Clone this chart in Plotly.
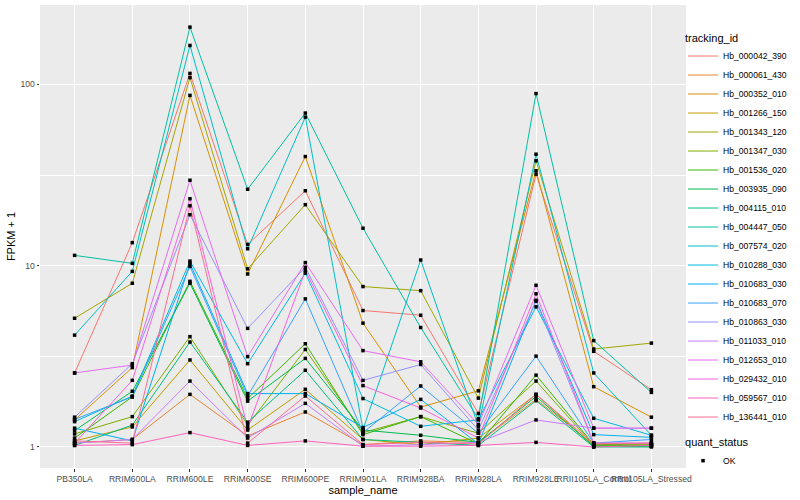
import plotly.graph_objects as go

samples = ["PB350LA", "RRIM600LA", "RRIM600LE", "RRIM600SE", "RRIM600PE", "RRIM901LA",
           "RRIM928BA", "RRIM928LA", "RRIM928LE", "RRII105LA_Control", "RRII105LA_Stressed"]

tracking_ids = ["Hb_000042_390", "Hb_000061_430", "Hb_000352_010", "Hb_001266_150", "Hb_001343_120",
                "Hb_001347_030", "Hb_001536_020", "Hb_003935_090", "Hb_004115_010", "Hb_004447_050",
                "Hb_007574_020", "Hb_010288_030", "Hb_010683_030", "Hb_010683_070", "Hb_010863_030",
                "Hb_011033_010", "Hb_012653_010", "Hb_029432_010", "Hb_059567_010", "Hb_136441_010"]

colors = ["#F8766D", "#EA8331", "#D89000", "#C09B00", "#A3A500", "#7CAE00", "#39B600", "#00BB4E",
          "#00BF7D", "#00C1A3", "#00BFC4", "#00BAE0", "#00B0F6", "#35A2FF", "#9590FF", "#C77CFF",
          "#E76BF3", "#FA62DB", "#FF62BC", "#FF6C91"]

# FPKM + 1 per sample, one list per tracking_id
Hb_000042_390 = [2.56, 13.4, 115, 13.1, 25.9, 5.66, 5.33, 1.53, 32.0, 3.37, 2.07]
Hb_000061_430 = [1.05, 1.10, 1.95, 1.15, 1.56, 1.03, 1.08, 1.06, 1.83, 1.03, 1.02]
Hb_000352_010 = [1.41, 2.74, 87, 9.0, 40, 4.82, 1.66, 2.04, 33.4, 2.15, 1.46]
Hb_001266_150 = [1.08, 1.29, 3.02, 1.24, 2.08, 1.10, 1.03, 1.12, 1.95, 1.01, 1.01]
Hb_001343_120 = [5.13, 8.0, 109, 9.6, 21.7, 7.67, 7.28, 1.86, 37.9, 3.47, 3.74]
Hb_001347_030 = [1.18, 1.47, 4.06, 1.32, 3.45, 1.20, 1.47, 1.19, 2.31, 1.02, 1.03]
Hb_001536_020 = [1.12, 1.89, 8.2, 1.85, 3.71, 1.17, 1.47, 1.04, 2.49, 1.03, 1.02]
Hb_003935_090 = [1.23, 2.03, 8.0, 1.79, 3.08, 1.24, 1.16, 1.06, 1.90, 1.01, 1.01]
Hb_004115_010 = [1.02, 1.32, 3.79, 1.37, 2.65, 1.10, 1.06, 1.02, 1.80, 1.00, 1.00]
Hb_004447_050 = [11.4, 10.3, 207, 26.4, 69.5, 16.1, 4.56, 1.43, 89, 3.86, 2.00]
Hb_007574_020 = [4.14, 9.3, 164, 12.4, 66, 1.25, 10.75, 1.30, 41.2, 2.56, 1.16]
Hb_010288_030 = [1.38, 1.91, 10.6, 2.88, 9.1, 1.85, 1.30, 1.41, 5.93, 1.44, 1.16]
Hb_010683_030 = [1.27, 1.08, 10.3, 1.97, 1.97, 1.28, 1.83, 1.04, 6.45, 1.17, 1.13]
Hb_010683_070 = [1.42, 1.89, 9.9, 1.91, 6.56, 1.20, 2.17, 1.19, 3.17, 1.05, 1.10]
Hb_010863_030 = [1.46, 2.88, 19.1, 4.51, 9.8, 2.33, 2.85, 1.24, 6.37, 1.05, 1.05]
Hb_011033_010 = [1.05, 1.10, 2.31, 1.12, 1.74, 1.01, 1.03, 1.06, 1.41, 1.27, 1.27]
Hb_012653_010 = [2.56, 2.83, 29.6, 3.15, 10.4, 3.40, 2.95, 1.33, 7.8, 1.27, 1.27]
Hb_029432_010 = [1.05, 2.33, 23.4, 1.27, 9.4, 2.18, 1.64, 1.12, 7.0, 1.05, 1.05]
Hb_059567_010 = [1.02, 1.03, 1.20, 1.02, 1.08, 1.01, 1.01, 1.02, 1.06, 1.00, 1.02]
Hb_136441_010 = [1.08, 1.05, 21.4, 1.05, 1.91, 1.03, 1.06, 1.04, 1.95, 1.04, 1.05]

series = [Hb_000042_390, Hb_000061_430, Hb_000352_010, Hb_001266_150, Hb_001343_120,
          Hb_001347_030, Hb_001536_020, Hb_003935_090, Hb_004115_010, Hb_004447_050,
          Hb_007574_020, Hb_010288_030, Hb_010683_030, Hb_010683_070, Hb_010863_030,
          Hb_011033_010, Hb_012653_010, Hb_029432_010, Hb_059567_010, Hb_136441_010]

y_ticks = [1, 10, 100]
y_tick_labels = ["1", "10", "100"]
y_minor = [3.1623, 31.623]

fig = go.Figure()
for name, vals, col in zip(tracking_ids, series, colors):
    fig.add_trace(go.Scatter(x=samples, y=vals, mode="lines", name=name,
                             line=dict(color=col, width=1), legend="legend"))

all_x = [s for _ in series for s in samples]
all_y = [v for vals in series for v in vals]
fig.add_trace(go.Scatter(x=all_x, y=all_y, mode="markers", name="OK",
                         marker=dict(symbol="square", size=3.5, color="black"),
                         legend="legend2"))

fig.update_layout(
    width=800, height=500,
    margin=dict(l=40, r=114, t=5, b=32, autoexpand=False),
    paper_bgcolor="white", plot_bgcolor="#EBEBEB",
    font=dict(family="Liberation Sans, Arial, sans-serif", size=9, color="black"),
    xaxis=dict(type="category", categoryorder="array", categoryarray=samples,
               range=[-0.6, 10.6], showgrid=True, gridcolor="white", gridwidth=1.1,
               ticks="outside", ticklen=2.5, tickcolor="#333333", tickwidth=1,
               tickfont=dict(size=8.6, color="#4D4D4D"), tickangle=0, automargin=False,
               title=dict(text="sample_name", font=dict(size=11, color="black"), standoff=0),
               zeroline=False, showline=False),
    yaxis=dict(type="log", range=[-0.116, 2.438], automargin=False,
               tickmode="array", tickvals=y_ticks, ticktext=y_tick_labels,
               showgrid=True, gridcolor="white", gridwidth=1.1,
               minor=dict(tickmode="array", tickvals=y_minor, showgrid=True,
                          gridcolor="white", gridwidth=0.5, ticks=""),
               ticks="outside", ticklen=2.5, tickcolor="#333333", tickwidth=1,
               tickfont=dict(size=8.6, color="#4D4D4D"),
               title=dict(text="FPKM + 1", font=dict(size=11, color="black"), standoff=2),
               zeroline=False, showline=False),
    legend=dict(title=dict(text="tracking_id", font=dict(size=11)),
                x=0.9954, xanchor="left", y=0.952, yanchor="top",
                font=dict(size=8.6), bgcolor="rgba(0,0,0,0)", tracegroupgap=0,
                itemwidth=30),
    legend2=dict(title=dict(text="quant_status", font=dict(size=11)),
                 x=0.9954, xanchor="left", y=0.078, yanchor="top",
                 font=dict(size=8.6), bgcolor="rgba(0,0,0,0)", itemwidth=30),
    showlegend=True,
)

fig.write_html("out.html",
               config={"displayModeBar": False},
               post_script="document.body.style.margin='0';document.body.style.padding='0';")
